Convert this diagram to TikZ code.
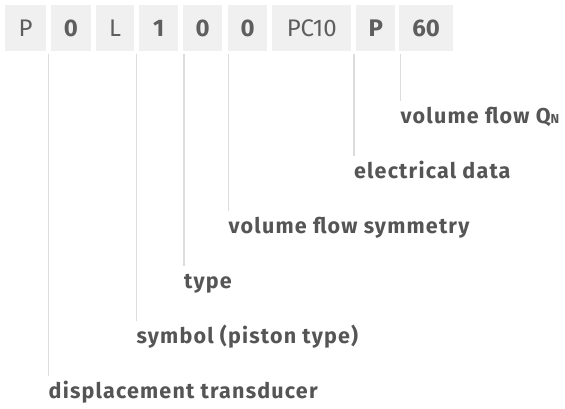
\documentclass[tikz,border=0pt]{standalone}
\usepackage{fontspec}
\setmainfont{Fira Sans}
\newfontfamily\labelfont{Fira Sans}[LetterSpace=5.5]
\definecolor{boxbg}{HTML}{EFF0EF}
\definecolor{boxtext}{HTML}{5E5E5E}
\definecolor{labeltext}{HTML}{555555}
\definecolor{leader}{HTML}{DCDCDC}
\tikzset{
  x=1pt, y=-1pt,
  codebox/.style={fill=boxbg, inner sep=0pt, minimum height=45.7pt, text=boxtext,
    font=\fontsize{24}{24}\selectfont, anchor=north west},
  codelabel/.style={anchor=base west, inner sep=0pt, text=labeltext,
    font=\fontsize{21.5}{21.5}\selectfont\labelfont\bfseries},
  leaderline/.style={draw=leader, line width=1.6pt}
}
\begin{document}
\begin{tikzpicture}
\useasboundingbox (0,0) rectangle (565,408);
% type code boxes
\node[codebox, minimum width=40.7pt] (b1) at (5,5) {P};
\node[codebox, minimum width=40pt] (b2) at (50.7,5) {\bfseries 0};
\node[codebox, minimum width=38pt] (b3) at (96,5) {L};
\node[codebox, minimum width=39pt] (b4) at (139,5) {\bfseries 1};
\node[codebox, minimum width=39pt] (b5) at (183,5) {\bfseries 0};
\node[codebox, minimum width=39pt] (b6) at (228,5) {\bfseries 0};
\node[codebox, minimum width=79pt] (b7) at (272,5) {PC10};
\node[codebox, minimum width=39pt] (b8) at (356,5) {\bfseries P};
\node[codebox, minimum width=54pt] (b9) at (399,5) {\bfseries 60};
% explanations
\node[codelabel] (l1) at (48.5,398) {displacement transducer};
\node[codelabel] (l2) at (136.5,343) {symbol (piston type)};
\node[codelabel] (l3) at (184,288) {type};
\node[codelabel] (l4) at (228.5,233) {volume flow symmetry};
\node[codelabel] (l5) at (354,178) {electrical data};
\node[codelabel] (l6) at (400.5,123) {volume flow Q{\fontsize{13}{13}\selectfont N}};
% leader line ends
\coordinate (t1) at (48.5,53.5);  \coordinate (e1) at (48.5,376);
\coordinate (t2) at (136.5,53.5); \coordinate (e2) at (136.5,321);
\coordinate (t3) at (184,53.5);   \coordinate (e3) at (184,266);
\coordinate (t4) at (228.5,53.5); \coordinate (e4) at (228.5,211);
\coordinate (t5) at (354,53.5);   \coordinate (e5) at (354,156);
\coordinate (t6) at (400.5,53.5); \coordinate (e6) at (400.5,101);
\foreach \i in {1,...,6} { \draw[leaderline] (t\i) -- (e\i); }
\end{tikzpicture}
\end{document}
